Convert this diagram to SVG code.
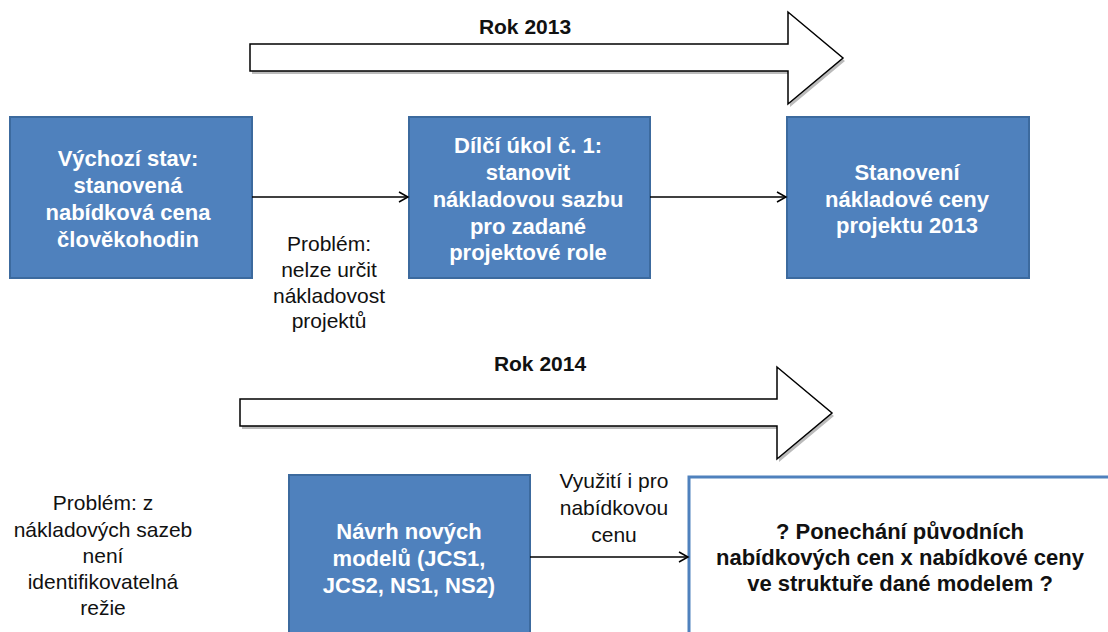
<svg xmlns="http://www.w3.org/2000/svg" width="1108" height="632" viewBox="0 0 1108 632">
<style>
.box{fill:#4f81bd;stroke:#3c6a9e;stroke-width:2}
.wbox{fill:#ffffff;stroke:#4f81bd;stroke-width:3}
.bt{font-family:"Liberation Sans",Arial,sans-serif;font-size:22px;font-weight:bold;fill:#ffffff;text-anchor:middle}
.kt{font-family:"Liberation Sans",Arial,sans-serif;font-size:22px;font-weight:bold;fill:#111111;text-anchor:middle}
.nt{font-family:"Liberation Sans",Arial,sans-serif;font-size:21px;fill:#111111;text-anchor:middle}
.rok{font-family:"Liberation Sans",Arial,sans-serif;font-size:21px;font-weight:bold;fill:#111111;text-anchor:middle}
.big{fill:#ffffff;stroke:#000000;stroke-width:1.5}
.sh{fill:#bbbbbb;stroke:none}
.conn{stroke:#000000;stroke-width:1.5;fill:none}
</style>
<defs>
<marker id="open" markerWidth="12" markerHeight="12" refX="10" refY="6" orient="auto" markerUnits="userSpaceOnUse">
<path d="M1,1 L10,6 L1,11" fill="none" stroke="#000" stroke-width="1.5"/>
</marker>
</defs>
<rect width="1108" height="632" fill="#ffffff"/>

<g id="timeline2013">
<path class="sh" d="M252,47 L790,47 L790,15 L845,61 L790,107 L790,74 L252,74 Z"/>
<path class="big" d="M250,44 L788,44 L788,12 L843,58 L788,104 L788,71 L250,71 Z"/>
<text class="rok" x="525" y="34">Rok 2013</text>
</g>

<g id="timeline2014">
<path class="sh" d="M242,402 L779,402 L779,370 L834,416 L779,462 L779,429 L242,429 Z"/>
<path class="big" d="M240,399 L777,399 L777,367 L832,413 L777,459 L777,426 L240,426 Z"/>
<text class="rok" x="540" y="371">Rok 2014</text>
</g>

<g id="node-vychozi">
<rect class="box" x="10" y="117" width="242" height="161"/>
<text class="bt" x="128" y="166">Výchozí stav:</text>
<text class="bt" x="128" y="193">stanovená</text>
<text class="bt" x="128" y="220">nabídková cena</text>
<text class="bt" x="128" y="247">člověkohodin</text>
</g>

<g id="node-dilci">
<rect class="box" x="409" y="117" width="241" height="161"/>
<text class="bt" x="528" y="153">Dílčí úkol č. 1:</text>
<text class="bt" x="528" y="180">stanovit</text>
<text class="bt" x="528" y="207">nákladovou sazbu</text>
<text class="bt" x="528" y="234">pro zadané</text>
<text class="bt" x="528" y="260">projektové role</text>
</g>

<g id="node-stanoveni">
<rect class="box" x="787" y="117" width="242" height="161"/>
<text class="bt" x="907" y="180">Stanovení</text>
<text class="bt" x="907" y="207">nákladové ceny</text>
<text class="bt" x="907" y="233">projektu 2013</text>
</g>

<g id="note-problem1">
<text class="nt" x="329" y="251">Problém:</text>
<text class="nt" x="329" y="277">nelze určit</text>
<text class="nt" x="329" y="303">nákladovost</text>
<text class="nt" x="329" y="328">projektů</text>
</g>

<g id="note-problem2">
<text class="nt" x="103" y="510">Problém: z</text>
<text class="nt" x="103" y="537">nákladových sazeb</text>
<text class="nt" x="103" y="563">není</text>
<text class="nt" x="103" y="589">identifikovatelná</text>
<text class="nt" x="103" y="615">režie</text>
</g>

<g id="node-navrh">
<rect class="box" x="289" y="475" width="241" height="170"/>
<text class="bt" x="409" y="539">Návrh nových</text>
<text class="bt" x="409" y="566">modelů (JCS1,</text>
<text class="bt" x="409" y="593">JCS2, NS1, NS2)</text>
</g>

<g id="node-ponechani">
<rect class="wbox" x="689" y="477" width="440" height="170"/>
<text class="kt" x="900" y="539">? Ponechání původních</text>
<text class="kt" x="900" y="565">nabídkových cen x nabídkové ceny</text>
<text class="kt" x="900" y="591">ve struktuře dané modelem ?</text>
</g>

<g id="connectors">
<line class="conn" x1="252" y1="197" x2="408" y2="197" marker-end="url(#open)"/>
<line class="conn" x1="650" y1="197" x2="786" y2="197" marker-end="url(#open)"/>
<line class="conn" x1="530" y1="557" x2="688" y2="557" marker-end="url(#open)"/>
<text class="nt" x="614" y="488">Využití i pro</text>
<text class="nt" x="614" y="515">nabídkovou</text>
<text class="nt" x="614" y="542">cenu</text>
</g>
</svg>
